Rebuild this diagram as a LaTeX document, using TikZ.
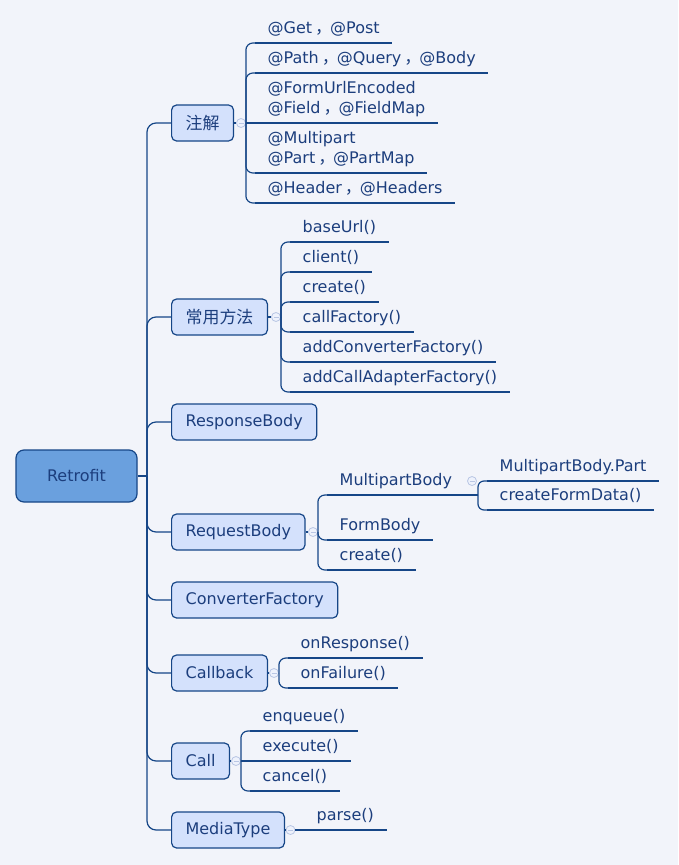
\documentclass[tikz,border=0pt]{standalone}
\usepackage{fontspec}
\setmainfont{DejaVu Sans}
\newfontfamily\cjk[Scale=1.06]{Noto Sans CJK SC}
\usetikzlibrary{positioning}
\definecolor{mmbg}{RGB}{242,244,250}
\definecolor{mmline}{RGB}{22,70,135}
\definecolor{mmtext}{RGB}{28,62,125}
\definecolor{mmroot}{RGB}{106,160,222}
\definecolor{mmtopic}{RGB}{212,225,252}
\definecolor{mmfold}{RGB}{185,198,228}
\definecolor{mmfoldfill}{RGB}{238,242,252}
\newcommand{\zhc}{\kern3pt{\cjk ，}\kern-2pt}

\begin{document}
\begin{tikzpicture}[
    x=1pt, y=-1pt,
    font=\fontsize{16}{20}\selectfont,
    %% ── node styles ──────────────────────────────────────────────────────────
    root/.style={
        draw=mmline, fill=mmroot, line width=1.2pt, rounded corners=8pt,
        minimum width=121pt, minimum height=52pt, text=mmtext
    },
    topic/.style={
        draw=mmline, fill=mmtopic, line width=1.2pt, rounded corners=5pt,
        anchor=west, inner xsep=14pt, minimum height=36pt, text=mmtext
    },
    leaf/.style={
        anchor=south west, inner xsep=12.5pt, inner ysep=5pt, text depth=4pt,
        align=left, text=mmtext,
        append after command={(\tikzlastnode.south west)
            edge[link] (\tikzlastnode.south east)}
    },
    fold/.style={
        circle, draw=mmfold, fill=mmfoldfill, line width=0.8pt,
        minimum size=9pt, inner sep=0pt,
        path picture={\draw[mmfold, line width=0.8pt]
            ([xshift=-2.5pt]path picture bounding box.center) --
            ([xshift=2.5pt]path picture bounding box.center);}
    },
    %% ── edge styles ──────────────────────────────────────────────────────────
    link/.style={draw=mmline, line width=1.2pt},
    spine/.style={link, rounded corners=9pt},
    brace/.style={link, rounded corners=7pt},
]

\path[use as bounding box, fill=mmbg] (0,0) rectangle (678,865);

%% ── Root and main topics ─────────────────────────────────────────────────────
\node[root] (retrofit) at (76.5,476) {Retrofit};
\coordinate (hub) at (147,476);

\node[topic] (zhujie)   at (171,123) {{\cjk 注解}};
\node[topic] (fangfa)   at (171,317) {{\cjk 常用方法}};
\node[topic] (resp)     at (171,422) {ResponseBody};
\node[topic] (req)      at (171,532) {RequestBody};
\node[topic] (conv)     at (171,600) {ConverterFactory};
\node[topic] (callback) at (171,673) {Callback};
\node[topic] (call)     at (171,761) {Call};
\node[topic] (media)    at (171,830) {MediaType};

%% collapse markers
\node[fold] (fzhujie)   at (241,123)   {};
\node[fold] (ffangfa)   at (276,317)   {};
\node[fold] (freq)      at (313,532)   {};
\node[fold] (fmulti)    at (472,481)   {};
\node[fold] (fcallback) at (274,673)   {};
\node[fold] (fcall)     at (236,761)   {};
\node[fold] (fmedia)    at (290.5,830) {};

%% ── Leaves: annotations ──────────────────────────────────────────────────────
\node[leaf] (get)    at (255,43)  {@Get\zhc @Post};
\node[leaf] (path)   at (255,73)  {@Path\zhc @Query\zhc @Body};
\node[leaf] (form)   at (255,123) {@FormUrlEncoded\\@Field\zhc @FieldMap};
\node[leaf] (multi)  at (255,173) {@Multipart\\@Part\zhc @PartMap};
\node[leaf] (header) at (255,203) {@Header\zhc @Headers};

%% ── Leaves: builder methods ──────────────────────────────────────────────────
\node[leaf] (baseurl) at (290,242) {baseUrl()};
\node[leaf] (client)  at (290,272) {client()};
\node[leaf] (create)  at (290,302) {create()};
\node[leaf] (callfac) at (290,332) {callFactory()};
\node[leaf] (addconv) at (290,362) {addConverterFactory()};
\node[leaf] (addcall) at (290,392) {addCallAdapterFactory()};

%% ── Leaves: RequestBody ──────────────────────────────────────────────────────
\node[leaf] (mbody)    at (327,495) {MultipartBody};
\node[leaf] (formbody) at (327,540) {FormBody};
\node[leaf] (rcreate)  at (327,570) {create()};
\node[leaf] (mpart)    at (487,481) {MultipartBody.Part};
\node[leaf] (mform)    at (487,510) {createFormData()};
\coordinate (mjoint) at (478,495);

%% ── Leaves: Callback, Call, MediaType ────────────────────────────────────────
\node[leaf] (onresp)  at (288,658) {onResponse()};
\node[leaf] (onfail)  at (288,688) {onFailure()};
\node[leaf] (enqueue) at (250,731) {enqueue()};
\node[leaf] (execute) at (250,761) {execute()};
\node[leaf] (cancel)  at (250,791) {cancel()};
\node[leaf] (parse)   at (304,830) {parse()};

%% ─────────────────────────────────────────────────────────────────────────────
%% Connectors
%% ─────────────────────────────────────────────────────────────────────────────
\draw[link] (retrofit) -- (hub);
\foreach \t in {zhujie,fangfa,resp,req,conv,callback,call,media}
    \draw[spine] (hub) |- (\t);

%% topic -> marker
\foreach \t in {zhujie,fangfa,req,callback,call,media}
    \draw[link] (\t) -- (f\t);

%% brackets
\foreach \l in {get,path,multi,header}
    \draw[brace] (fzhujie.east) |- (\l.south west);
\draw[link] (fzhujie.east) -- (form.south west);

\foreach \l in {baseurl,client,create,callfac,addconv,addcall}
    \draw[brace] (ffangfa.east) |- (\l.south west);

\foreach \l in {mbody,formbody,rcreate}
    \draw[brace] (freq.east) |- (\l.south west);
\draw[link] (mbody.south east) -- (mjoint);
\foreach \l in {mpart,mform}
    \draw[brace, rounded corners=6pt] (mjoint) |- (\l.south west);

\foreach \l in {onresp,onfail}
    \draw[brace] (fcallback.east) |- (\l.south west);

\foreach \l in {enqueue,cancel}
    \draw[brace] (fcall.east) |- (\l.south west);
\draw[link] (fcall.east) -- (execute.south west);

\draw[link] (fmedia.east) -- (parse.south west);

\end{tikzpicture}
\end{document}
